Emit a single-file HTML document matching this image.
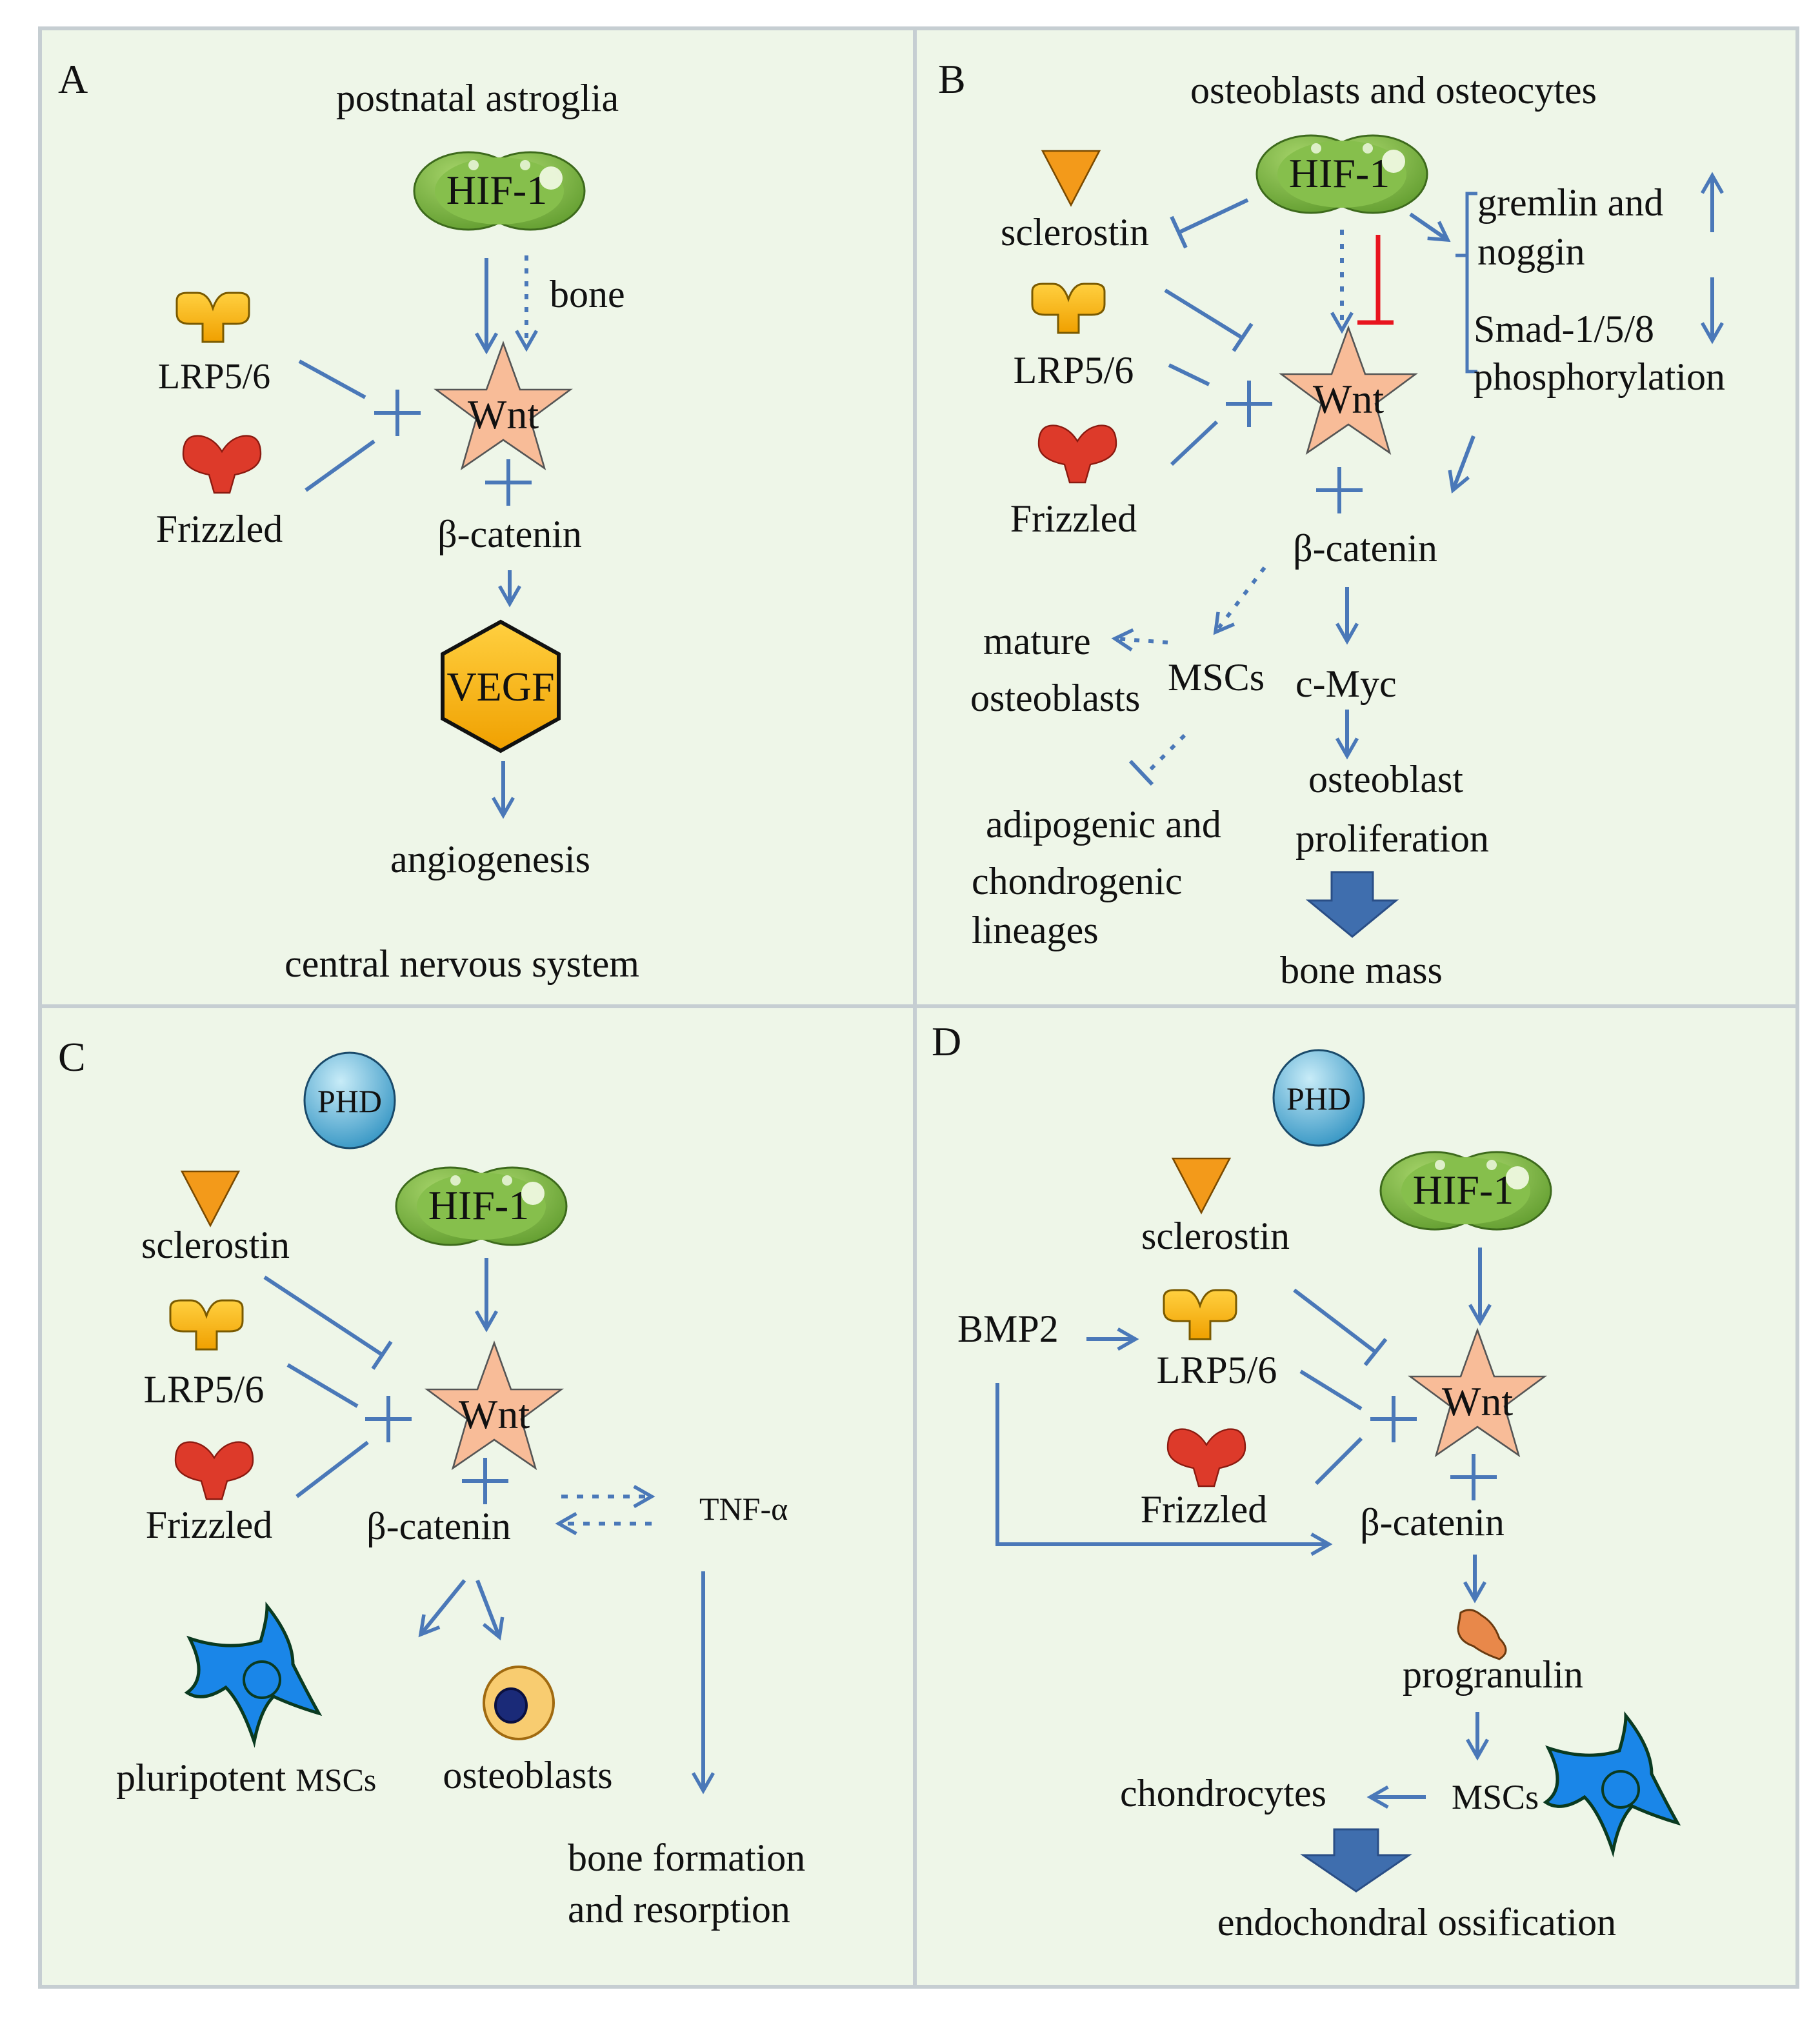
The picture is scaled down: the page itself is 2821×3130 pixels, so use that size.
<!DOCTYPE html>
<html><head><meta charset="utf-8"><style>
html,body{margin:0;padding:0;background:#fff;}
svg{display:block;}
svg text{font-family:"Liberation Serif","Times New Roman",serif !important;fill:#111;}
</style></head><body>
<svg width="2821" height="3130" viewBox="0 0 1410.5 1565" xmlns="http://www.w3.org/2000/svg" font-family="'Liberation Serif', serif">
<defs>
<marker id="ah" viewBox="0 0 10 10" refX="8" refY="5" markerWidth="6.5" markerHeight="6.5" orient="auto" markerUnits="strokeWidth">
<path d="M1,1 L8,5 L1,9" fill="none" stroke="#4a78b8" stroke-width="1.4"/>
</marker>
<radialGradient id="gg" cx="0.4" cy="0.3" r="0.8"><stop offset="0" stop-color="#a6d46a"/><stop offset="1" stop-color="#5e9a2c"/></radialGradient>
<radialGradient id="bg" cx="0.4" cy="0.3" r="0.8"><stop offset="0" stop-color="#c8ecf8"/><stop offset="1" stop-color="#2a8fc0"/></radialGradient>
<linearGradient id="og" x1="0" y1="0" x2="0" y2="1"><stop offset="0" stop-color="#ffd040"/><stop offset="1" stop-color="#f0a000"/></linearGradient>
<g id="hif">
<ellipse cx="-24" cy="0" rx="42" ry="30" fill="url(#gg)" stroke="#3d6a1c" stroke-width="1.5"/>
<ellipse cx="24" cy="0" rx="42" ry="30" fill="url(#gg)" stroke="#3d6a1c" stroke-width="1.5"/>
<ellipse cx="0" cy="0" rx="50" ry="26" fill="#86bf4c"/>
<circle cx="40" cy="-10" r="9" fill="#f4fbe8" opacity="0.9"/>
<circle cx="-20" cy="-20" r="4" fill="#f4fbe8" opacity="0.8"/>
<circle cx="20" cy="-20" r="4" fill="#f4fbe8" opacity="0.8"/>
<text x="-2" y="10" font-size="32" text-anchor="middle">HIF-1</text>
</g>
<g id="star">
<polygon points="0,-52 13,-16 52,-16 21,7 32,45 0,23 -32,45 -21,7 -52,-16 -13,-16" fill="#f8bc98" stroke="#555" stroke-width="1.3"/>
<text x="0" y="14" font-size="32" text-anchor="middle" fill="#2a1208">Wnt</text>
</g>
<g id="lrp">
<path d="M-28,-14 Q-28,-20 -20,-20 L-12,-20 Q-4,-20 0,-8 Q4,-20 12,-20 L20,-20 Q28,-20 28,-14 L28,-4 Q28,4 18,4 L8,4 L8,18 L-8,18 L-8,4 L-18,4 Q-28,4 -28,-4 Z" fill="url(#og)" stroke="#7a5a00" stroke-width="1.5"/>
</g>
<g id="frz">
<path d="M-30,-8 Q-30,-24 -16,-22 Q-6,-20 0,-10 Q6,-20 16,-22 Q30,-24 30,-8 Q30,4 10,8 L6,22 L-6,22 L-10,8 Q-30,4 -30,-8 Z" fill="#dd3a2a" stroke="#8a1a10" stroke-width="1.2"/>
</g>
<g id="scl"><polygon points="-22,-20 22,-20 0,22" fill="#f39a1a" stroke="#7a4a00" stroke-width="1.3"/></g>
<g id="phd"><ellipse cx="0" cy="0" rx="35" ry="37" fill="url(#bg)" stroke="#1a4a6a" stroke-width="1.5"/><text x="0" y="9" font-size="25" text-anchor="middle">PHD</text></g>
<g id="msc">
<path d="M-50,-30 Q-20,-20 5,-28 Q10,-45 10,-55 Q30,-30 30,-10 Q40,10 50,28 Q30,22 15,15 Q5,25 0,50 Q-10,20 -22,8 Q-40,20 -52,12 Q-35,0 -50,-30 Z" fill="#1a86e8" stroke="#0a3a20" stroke-width="2.5"/>
<circle cx="6" cy="2" r="14" fill="none" stroke="#0a3a20" stroke-width="2"/>
</g>
</defs>
<rect width="1410.5" height="1565" fill="#fff"/>
<rect x="31" y="22" width="1362" height="1518" fill="#eef6e8" stroke="#c6ced2" stroke-width="3"/>
<line x1="709" y1="22" x2="709" y2="1540" stroke="#c6ced2" stroke-width="3"/>
<line x1="31" y1="780" x2="1393" y2="780" stroke="#c6ced2" stroke-width="3"/>

<g stroke="#4a78b8" stroke-width="3" fill="none">
<!-- A -->
<line x1="377" y1="200" x2="377" y2="272" marker-end="url(#ah)"/>
<line x1="408" y1="198" x2="408" y2="270" stroke-dasharray="4,6" marker-end="url(#ah)"/>
<line x1="232" y1="280" x2="283" y2="308"/>
<line x1="237" y1="380" x2="290" y2="342"/>
<path d="M290,320 H326 M308,302 V338"/>
<path d="M376,374 H412 M394,356 V392"/>
<line x1="395" y1="442" x2="395" y2="468" marker-end="url(#ah)"/>
<line x1="390" y1="590" x2="390" y2="632" marker-end="url(#ah)"/>
<!-- B -->
<line x1="967" y1="155" x2="914" y2="180"/><line x1="908" y1="168" x2="919" y2="192"/>
<line x1="903" y1="225" x2="963" y2="262"/><line x1="956" y1="272" x2="970" y2="251"/>
<line x1="906" y1="283" x2="937" y2="298"/>
<line x1="908" y1="360" x2="943" y2="327"/>
<path d="M950,313 H986 M968,295 V331"/>
<line x1="1040" y1="178" x2="1040" y2="256" stroke-dasharray="4,7" marker-end="url(#ah)"/>
<line x1="1093" y1="166" x2="1122" y2="186" marker-end="url(#ah)"/>
<path d="M1145,150 H1137 V288 H1145 M1137,198 H1128" stroke-width="2.5"/>
<line x1="1327" y1="180" x2="1327" y2="136" marker-end="url(#ah)"/>
<line x1="1327" y1="215" x2="1327" y2="264" marker-end="url(#ah)"/>
<line x1="1142" y1="338" x2="1126" y2="380" marker-end="url(#ah)"/>
<path d="M1020,380 H1056 M1038,362 V398"/>
<line x1="980" y1="440" x2="942" y2="490" stroke-dasharray="4,7" marker-end="url(#ah)"/>
<line x1="905" y1="498" x2="864" y2="495" stroke-dasharray="4,7" marker-end="url(#ah)"/>
<line x1="1044" y1="455" x2="1044" y2="497" marker-end="url(#ah)"/>
<line x1="1044" y1="550" x2="1044" y2="586" marker-end="url(#ah)"/>
<line x1="918" y1="570" x2="888" y2="600" stroke-dasharray="4,7"/><line x1="876" y1="590" x2="893" y2="608"/>
<!-- C -->
<line x1="377" y1="975" x2="377" y2="1030" marker-end="url(#ah)"/>
<line x1="205" y1="990" x2="296" y2="1050"/><line x1="289" y1="1061" x2="303" y2="1040"/>
<line x1="223" y1="1058" x2="277" y2="1090"/>
<line x1="230" y1="1160" x2="285" y2="1118"/>
<path d="M283,1100 H319 M301,1082 V1118"/>
<path d="M358,1148 H394 M376,1130 V1166"/>
<line x1="435" y1="1160" x2="505" y2="1160" stroke-dasharray="5,7" marker-end="url(#ah)"/>
<line x1="505" y1="1181" x2="433" y2="1181" stroke-dasharray="5,7" marker-end="url(#ah)"/>
<line x1="360" y1="1225" x2="326" y2="1267" marker-end="url(#ah)"/>
<line x1="370" y1="1225" x2="387" y2="1269" marker-end="url(#ah)"/>
<line x1="545" y1="1218" x2="545" y2="1388" marker-end="url(#ah)"/>
<!-- D -->
<line x1="1147" y1="967" x2="1147" y2="1025" marker-end="url(#ah)"/>
<line x1="842" y1="1038" x2="880" y2="1038" marker-end="url(#ah)"/>
<line x1="1003" y1="1000" x2="1066" y2="1048"/><line x1="1058" y1="1058" x2="1074" y2="1038"/>
<line x1="1008" y1="1063" x2="1055" y2="1092"/>
<line x1="1020" y1="1150" x2="1055" y2="1115"/>
<path d="M1062,1100 H1098 M1080,1082 V1118"/>
<path d="M1124,1145 H1160 M1142,1127 V1163"/>
<path d="M773,1072 V1197 H1030" marker-end="url(#ah)"/>
<line x1="1143" y1="1205" x2="1143" y2="1240" marker-end="url(#ah)"/>
<line x1="1145" y1="1327" x2="1145" y2="1362" marker-end="url(#ah)"/>
<line x1="1105" y1="1393" x2="1062" y2="1393" marker-end="url(#ah)"/>
</g>
<path d="M1068,182 V250 M1052,250 H1080" stroke="#e8141e" stroke-width="3.5" fill="none"/>

<!-- A content -->
<text x="45" y="72" font-size="32">A</text>
<text x="370" y="86" font-size="30" text-anchor="middle">postnatal astroglia</text>
<use href="#hif" x="387" y="148"/>
<text x="426" y="238" font-size="30">bone</text>
<use href="#lrp" x="165" y="247"/>
<text x="166" y="301" font-size="28" text-anchor="middle">LRP5/6</text>
<use href="#frz" x="172" y="360"/>
<text x="170" y="420" font-size="30" text-anchor="middle">Frizzled</text>
<use href="#star" x="390" y="318"/>
<text x="395" y="424" font-size="30" text-anchor="middle">β-catenin</text>
<polygon points="388,482 433,507 433,557 388,582 343,557 343,507" fill="url(#og)" stroke="#111" stroke-width="3"/>
<text x="388" y="543" font-size="32" text-anchor="middle">VEGF</text>
<text x="380" y="676" font-size="30" text-anchor="middle">angiogenesis</text>
<text x="358" y="757" font-size="30" text-anchor="middle">central nervous system</text>

<!-- B content -->
<text x="727" y="72" font-size="32">B</text>
<text x="1080" y="80" font-size="30" text-anchor="middle">osteoblasts and osteocytes</text>
<use href="#hif" x="1040" y="135"/>
<use href="#scl" x="830" y="137"/>
<text x="833" y="190" font-size="30" text-anchor="middle">sclerostin</text>
<use href="#lrp" x="828" y="240"/>
<text x="832" y="297" font-size="30" text-anchor="middle">LRP5/6</text>
<use href="#frz" x="835" y="352"/>
<text x="832" y="412" font-size="30" text-anchor="middle">Frizzled</text>
<use href="#star" x="1045" y="306"/>
<text x="1145" y="167" font-size="30">gremlin and</text>
<text x="1145" y="205" font-size="30">noggin</text>
<text x="1142" y="265" font-size="30">Smad-1/5/8</text>
<text x="1142" y="302" font-size="30">phosphorylation</text>
<text x="1058" y="435" font-size="30" text-anchor="middle">β-catenin</text>
<text x="762" y="507" font-size="30">mature</text>
<text x="752" y="551" font-size="30">osteoblasts</text>
<text x="905" y="535" font-size="30">MSCs</text>
<text x="1004" y="540" font-size="30">c-Myc</text>
<text x="1014" y="614" font-size="30">osteoblast</text>
<text x="1004" y="660" font-size="30">proliferation</text>
<text x="764" y="649" font-size="30">adipogenic and</text>
<text x="753" y="693" font-size="30">chondrogenic</text>
<text x="753" y="731" font-size="30">lineages</text>
<polygon points="1032,676 1064,676 1064,698 1082,698 1048,726 1014,698 1032,698" fill="#3f6eae" stroke="#2a4e86" stroke-width="1.5"/>
<text x="1055" y="762" font-size="30" text-anchor="middle">bone mass</text>

<!-- C content -->
<text x="45" y="830" font-size="32">C</text>
<use href="#phd" x="271" y="853"/>
<use href="#scl" x="163" y="928"/>
<text x="167" y="975" font-size="30" text-anchor="middle">sclerostin</text>
<use href="#hif" x="373" y="935"/>
<use href="#lrp" x="160" y="1028"/>
<text x="158" y="1087" font-size="30" text-anchor="middle">LRP5/6</text>
<use href="#frz" x="166" y="1140"/>
<text x="162" y="1192" font-size="30" text-anchor="middle">Frizzled</text>
<use href="#star" x="383" y="1093"/>
<text x="340" y="1193" font-size="30" text-anchor="middle">β-catenin</text>
<text x="542" y="1178" font-size="25">TNF-α</text>
<use href="#msc" x="197" y="1300"/>
<ellipse cx="402" cy="1320" rx="27" ry="28" fill="#f8cc70" stroke="#a06a10" stroke-width="2"/>
<ellipse cx="396" cy="1322" rx="12" ry="13" fill="#1a2a78" stroke="#0a1040" stroke-width="2"/>
<text x="90" y="1388" font-size="30">pluripotent <tspan font-size="25">MSCs</tspan></text>
<text x="409" y="1386" font-size="30" text-anchor="middle">osteoblasts</text>
<text x="440" y="1450" font-size="30">bone formation</text>
<text x="440" y="1490" font-size="30">and  resorption</text>

<!-- D content -->
<text x="722" y="818" font-size="32">D</text>
<use href="#phd" x="1022" y="851"/>
<use href="#scl" x="931" y="918"/>
<text x="942" y="968" font-size="30" text-anchor="middle">sclerostin</text>
<use href="#hif" x="1136" y="923"/>
<text x="742" y="1040" font-size="30">BMP2</text>
<use href="#lrp" x="930" y="1020"/>
<text x="943" y="1072" font-size="30" text-anchor="middle">LRP5/6</text>
<use href="#star" x="1145" y="1083"/>
<use href="#frz" x="935" y="1130"/>
<text x="933" y="1180" font-size="30" text-anchor="middle">Frizzled</text>
<text x="1110" y="1190" font-size="30" text-anchor="middle">β-catenin</text>
<path d="M1132,1250 Q1140,1245 1148,1252 Q1158,1258 1162,1270 Q1172,1280 1162,1286 Q1150,1282 1142,1276 Q1130,1272 1130,1262 Z" fill="#e8884a" stroke="#6a3a10" stroke-width="1.5"/>
<text x="1157" y="1308" font-size="30" text-anchor="middle">progranulin</text>
<text x="1125" y="1402" font-size="27">MSCs</text>
<text x="948" y="1400" font-size="30" text-anchor="middle">chondrocytes</text>
<use href="#msc" x="1250" y="1385"/>
<polygon points="1034,1418 1068,1418 1068,1438 1092,1438 1051,1466 1010,1438 1034,1438" fill="#3f6eae" stroke="#2a4e86" stroke-width="1.5"/>
<text x="1098" y="1500" font-size="30" text-anchor="middle">endochondral ossification</text>
</svg>
</body></html>
